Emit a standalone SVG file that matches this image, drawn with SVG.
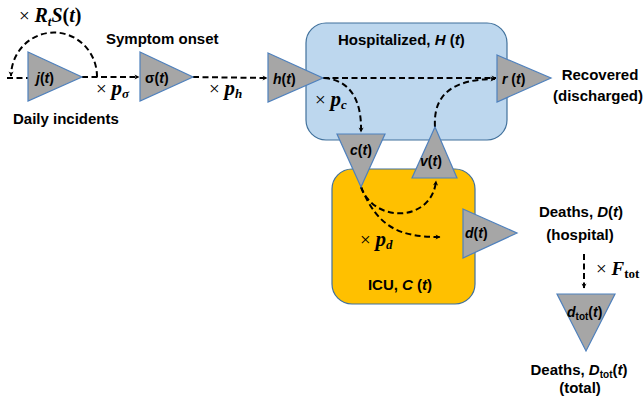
<svg xmlns="http://www.w3.org/2000/svg" width="644" height="398" viewBox="0 0 644 398">
<defs>
<marker id="ah" viewBox="0 0 10 10" refX="9" refY="5" markerWidth="5" markerHeight="5" orient="auto" markerUnits="userSpaceOnUse" overflow="visible">
<path d="M0,0 L10,5 L0,10 L3,5 Z" fill="#000"/>
</marker>
<style>
.box{stroke:#41719C;stroke-width:1.2}
.tri{fill:#A6A6A6;stroke:#4F81BD;stroke-width:1.2}
.lbl{font-family:"Liberation Sans",Arial,sans-serif;font-weight:bold;font-size:15px;fill:#000}
.tl{font-family:"Liberation Sans",Arial,sans-serif;font-weight:bold;font-size:14px;fill:#000}
.m{font-family:"Liberation Serif","Times New Roman",serif;font-size:19px;fill:#000}
.mi{font-style:italic;font-weight:bold}
.con{fill:none;stroke:#000;stroke-width:2;stroke-dasharray:6 3.5}
.cona{fill:none;stroke:#000;stroke-width:2;stroke-dasharray:6 3.5;marker-end:url(#ah)}
</style>
</defs>
<rect width="644" height="398" fill="#fff"/>

<g id="hospital-box">
<rect class="box" x="306" y="23" width="201" height="117" rx="20" fill="#BDD7EE"/>
<text class="lbl" x="338" y="45">Hospitalized,  <tspan font-style="italic">H</tspan> (<tspan font-style="italic">t</tspan>)</text>
</g>
<g id="icu-box">
<rect class="box" x="332" y="169" width="143" height="135" rx="20" fill="#FFC000"/>
<text class="lbl" x="400" y="290" text-anchor="middle">ICU, <tspan font-style="italic">C</tspan> (<tspan font-style="italic">t</tspan>)</text>
</g>

<g id="connectors">
<line class="con" x1="7" y1="78" x2="28" y2="78"/>
<path class="cona" d="M97,77 A43,44 0 0 0 11,76"/>
<line class="cona" x1="82" y1="77" x2="139" y2="77"/>
<line class="cona" x1="193" y1="77" x2="267" y2="78"/>
<line class="cona" x1="323" y1="78" x2="496" y2="78"/>
<path class="cona" d="M324,78 C350,80 362,100 361,132"/>
<path class="cona" d="M435,127 C433,95 452,79 495,79"/>
<path class="cona" d="M361,187 C374,224 432,222 436,181"/>
<path class="cona" d="M361,187 C378,228 400,237 440,237"/>
<line class="cona" x1="584" y1="254" x2="584" y2="288"/>
</g>

<g id="j">
<polygon class="tri" points="28,52 82,77 28,101"/>
<text class="tl" x="36" y="83"><tspan font-style="italic">j</tspan>(<tspan font-style="italic">t</tspan>)</text>
</g>
<g id="sigma">
<polygon class="tri" points="140,52 193,77 140,101"/>
<text class="tl" x="145" y="83">σ(<tspan font-style="italic">t</tspan>)</text>
</g>
<g id="h">
<polygon class="tri" points="268,53 323,78 268,102"/>
<text class="tl" x="273" y="84"><tspan font-style="italic">h</tspan>(<tspan font-style="italic">t</tspan>)</text>
</g>
<g id="r">
<polygon class="tri" points="497,55 551,78 497,102"/>
<text class="tl" x="502" y="84"><tspan font-style="italic">r</tspan> (<tspan font-style="italic">t</tspan>)</text>
</g>
<g id="c">
<polygon class="tri" points="337,134 385,134 361,187"/>
<text class="tl" x="350" y="155"><tspan font-style="italic">c</tspan>(<tspan font-style="italic">t</tspan>)</text>
</g>
<g id="v">
<polygon class="tri" points="435,127 457,178 412,178"/>
<text class="tl" x="420" y="166"><tspan font-style="italic">v</tspan>(<tspan font-style="italic">t</tspan>)</text>
</g>
<g id="d">
<polygon class="tri" points="463,209 517,233 463,258"/>
<text class="tl" x="465" y="238"><tspan font-style="italic">d</tspan>(<tspan font-style="italic">t</tspan>)</text>
</g>
<g id="dtot">
<polygon class="tri" points="557,294 615,294 586,351"/>
<text class="tl" x="567" y="317"><tspan font-style="italic">d</tspan><tspan font-size="10" dy="3">tot</tspan><tspan dy="-3">(</tspan><tspan font-style="italic">t</tspan>)</text>
</g>

<g id="labels">
<text class="m" x="19" y="22">× <tspan class="mi" font-size="20">R</tspan><tspan class="mi" font-size="13" dy="4">t</tspan><tspan class="mi" font-size="20" dy="-4">S</tspan><tspan font-weight="bold" font-size="20">(</tspan><tspan class="mi" font-size="20">t</tspan><tspan font-weight="bold" font-size="20">)</tspan></text>
<text class="lbl" x="106" y="44">Symptom onset</text>
<text class="lbl" x="13" y="124">Daily incidents</text>
<text class="m" x="96" y="95">× <tspan class="mi" font-size="21">p</tspan><tspan class="mi" font-size="13" dy="3">σ</tspan></text>
<text class="m" x="209" y="95">× <tspan class="mi" font-size="21">p</tspan><tspan class="mi" font-size="13" dy="3">h</tspan></text>
<text class="m" x="315" y="106">× <tspan class="mi" font-size="21">p</tspan><tspan class="mi" font-size="13" dy="3">c</tspan></text>
<text class="m" x="360" y="246">× <tspan class="mi" font-size="21">p</tspan><tspan class="mi" font-size="13" dy="3">d</tspan></text>
<text class="m" x="596" y="275">× <tspan class="mi">F</tspan><tspan font-weight="bold" font-size="13" dy="3">tot</tspan></text>
<text class="lbl" x="600" y="80" text-anchor="middle">Recovered</text>
<text class="lbl" x="598" y="101" text-anchor="middle">(discharged)</text>
<text class="lbl" x="581" y="217" text-anchor="middle">Deaths, <tspan font-style="italic">D</tspan>(<tspan font-style="italic">t</tspan>)</text>
<text class="lbl" x="580" y="240" text-anchor="middle">(hospital)</text>
<text class="lbl" x="579" y="375" text-anchor="middle">Deaths, <tspan font-style="italic">D</tspan><tspan font-size="10" dy="3">tot</tspan><tspan dy="-3">(</tspan><tspan font-style="italic">t</tspan>)</text>
<text class="lbl" x="580" y="393" text-anchor="middle">(total)</text>
</g>
</svg>
